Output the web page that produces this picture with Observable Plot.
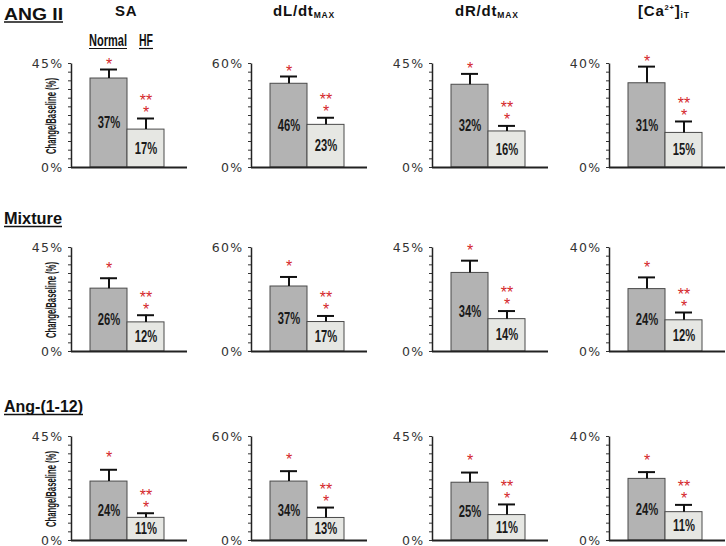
<!DOCTYPE html>
<html><head><meta charset="utf-8">
<script src="https://cdn.jsdelivr.net/npm/d3@7"></script>
<script src="https://cdn.jsdelivr.net/npm/@observablehq/plot@0.6"></script>
<style>
body{margin:0;background:#fff;}
#wrap{position:relative;width:726px;height:546px;overflow:hidden;background:#fff;}
.panel{position:absolute;}
#overlay{position:absolute;left:0;top:0;pointer-events:none;}
</style></head><body><div id="wrap"></div>
<script>
// ---------- data ----------
const columns = ["SA", "dL/dtMAX", "dR/dtMAX", "[Ca2+]iT"];
const columnTitles = [["SA"], ["dL/dt", "_MAX"], ["dR/dt", "_MAX"], ["[Ca", "^2+", "]", "_iT"]];
const rows = ["ANG II", "Mixture", "Ang-(1-12)"];
const groups = ["Normal", "HF"];
const yMax = [45, 60, 45, 40];
const yTickLabels = [["0%", "45%"], ["0%", "60%"], ["0%", "45%"], ["0%", "40%"]];
const yLabel = "Change/Baseline (%)";

const normalValues = [
  [38.5, 48.3, 35.8, 32.4],
  [27.2, 37.5, 34.0, 24.0],
  [25.5, 34.0, 25.0, 23.7]
];
const normalErr = [
  [42.4, 52.5, 40.5, 38.8],
  [31.7, 43.0, 39.3, 28.5],
  [30.6, 40.0, 29.4, 26.3]
];
const hfValues = [
  [16.4, 24.6, 15.6, 13.3],
  [12.6, 17.0, 14.0, 12.0],
  [9.8, 13.0, 11.0, 10.9]
];
const hfErr = [
  [21.2, 28.7, 18.0, 17.7],
  [15.7, 20.5, 17.5, 15.0],
  [11.8, 19.0, 15.6, 13.7]
];
const normalLabels = [
  ["37%", "46%", "32%", "31%"],
  ["26%", "37%", "34%", "24%"],
  ["24%", "34%", "25%", "24%"]
];
const hfLabels = [
  ["17%", "23%", "16%", "15%"],
  ["12%", "17%", "14%", "12%"],
  ["11%", "13%", "11%", "11%"]
];
const normalStars = "*";
const hfStars = ["**", "*"];

// ---------- layout ----------
const colAxis = [71, 251, 432, 609];
const rowTop = [63, 247, 436];
const ML = 60, MT = 30, MB = 6, IH = 104, PW = 176;
const RED = "#d4282a";
const normalStarDy = [-9, -14, -16];

const wrap = document.getElementById("wrap");

function condense(texts, factor) {
  texts.forEach(t => {
    const len = t.getComputedTextLength();
    if (len > 0) {
      t.setAttribute("textLength", (len * factor).toFixed(2));
      t.setAttribute("lengthAdjust", "spacingAndGlyphs");
    }
  });
}

for (let r = 0; r < rows.length; r++) {
  for (let c = 0; c < columns.length; c++) {
    const max = yMax[c];
    const data = groups.map((g, i) => ({
      group: g,
      value: i ? hfValues[r][c] : normalValues[r][c],
      err: i ? hfErr[r][c] : normalErr[r][c],
      label: i ? hfLabels[r][c] : normalLabels[r][c]
    }));
    const minor = d3.range(0, 13).map(k => max * k / 12);
    const w = PW - ML, h = IH;
    const corr = 4.3;
    const plot = Plot.plot({
      width: PW, height: MT + IH + MB,
      marginLeft: ML, marginRight: 0, marginTop: MT, marginBottom: MB,
      style: {background: "transparent", overflow: "visible", fontFamily: "'Liberation Sans', Arial, sans-serif"},
      x: {domain: groups, range: [ML + 19, ML + 93], padding: 0, axis: null},
      y: {domain: [0, max], axis: null},
      color: {domain: groups, range: ["#b3b3b3", "#e6e7e3"]},
      marks: [
        Plot.barY(data, {x: "group", y: "value", fill: "group", stroke: "#4a4a4a", strokeWidth: 1}),
        Plot.ruleX(data, {x: "group", y1: "value", y2: "err", stroke: "#111", strokeWidth: 2}),
        Plot.tickY(data, {x: "group", y: "err", stroke: "#111", strokeWidth: 2, insetLeft: 10, insetRight: 10}),
        Plot.text(data, {x: "group", y: d => d.value / 2, text: "label", fill: "#1a1a1a",
          fontSize: 16, fontWeight: "bold"}),
        Plot.text([data[0]], {x: "group", y: "err", text: () => normalStars, fill: RED,
          fontSize: 16, dy: normalStarDy[r] + corr}),
        Plot.text([data[1]], {x: "group", y: "err", text: () => hfStars[1], fill: RED,
          fontSize: 16, dy: -10 + corr}),
        Plot.text([data[1]], {x: "group", y: "err", text: () => hfStars[0], fill: RED,
          fontSize: 16, dy: -22 + corr}),
        Plot.axisY({ticks: minor, tickSize: 3, tickFormat: () => "", stroke: "#333", strokeWidth: 1}),
        Plot.axisY({ticks: [0, max], tickSize: 0, tickPadding: 8,
          tickFormat: (d) => yTickLabels[c][d === 0 ? 0 : 1], fill: "#333",
          fontSize: 12.5, fontFamily: "'DejaVu Sans', sans-serif"}),
        Plot.frame({stroke: "#222", strokeWidth: 1.5, strokeDasharray: `0 ${2 * w + h} ${h}`}),
        Plot.ruleY([0], {stroke: "#222", strokeWidth: 2})
      ]
    });
    const div = document.createElement("div");
    div.className = "panel";
    div.style.left = (colAxis[c] - ML) + "px";
    div.style.top = (rowTop[r] - MT) + "px";
    div.appendChild(plot);
    wrap.appendChild(div);
    const labelTexts = Array.from(plot.querySelectorAll("text"))
      .filter(t => /^\d+%$/.test(t.textContent) && t.closest('g[font-weight="bold"]'));
    condense(labelTexts, 0.7);
    plot.querySelectorAll('g[aria-label="y-axis tick label"] text').forEach(t => {
      t.style.letterSpacing = "1.3px";
      t.style.fontFamily = "'DejaVu Sans', sans-serif";
      t.style.fontSize = "12.5px";
    });
  }
}

// ---------- overlay texts ----------
const ov = d3.select(wrap).append("svg").attr("id", "overlay")
  .attr("width", 726).attr("height", 546)
  .style("font-family", "'Liberation Sans', Arial, sans-serif");

const titleX = [115, 273, 455, 638];
columnTitles.forEach((parts, c) => {
  const t = ov.append("text").attr("x", titleX[c]).attr("y", 16)
    .attr("font-weight", "bold").attr("font-size", 15).attr("fill", "#111")
    .style("letter-spacing", "0.8px");
  let shift = 0;
  parts.forEach(p => {
    let target = 0, size = 15, txt = p;
    if (p[0] === "_") { target = 2; size = 8.5; txt = p.slice(1); }
    else if (p[0] === "^") { target = -6; size = 7.5; txt = p.slice(1); }
    t.append("tspan").attr("dy", target - shift).attr("font-size", size).text(txt);
    shift = target;
  });
});

const rowX = 4, rowBase = [20, 224, 412], rowLen = [59, 58, 79], rowUnder = [22, 226.5, 414.5];
rows.forEach((name, r) => {
  ov.append("text").attr("x", rowX).attr("y", rowBase[r])
    .attr("font-weight", "bold").attr("font-size", 16).attr("fill", "#111")
    .attr("textLength", rowLen[r]).attr("lengthAdjust", "spacingAndGlyphs").text(name);
  ov.append("line").attr("x1", rowX).attr("x2", rowX + rowLen[r])
    .attr("y1", rowUnder[r]).attr("y2", rowUnder[r]).attr("stroke", "#111").attr("stroke-width", 1.3);
  ov.append("text")
    .attr("transform", `translate(51,${rowTop[r] + 53}) rotate(-90)`)
    .attr("text-anchor", "middle").attr("dy", "0.35em")
    .attr("font-weight", "bold").attr("font-size", 15).attr("fill", "#1a1a1a")
    .attr("textLength", 76).attr("lengthAdjust", "spacingAndGlyphs").text(yLabel);
});

const grpX = [89, 139], grpLen = [38, 14];
groups.forEach((g, i) => {
  ov.append("text").attr("x", grpX[i]).attr("y", 46)
    .attr("font-weight", "bold").attr("font-size", 17).attr("fill", "#111")
    .attr("textLength", grpLen[i]).attr("lengthAdjust", "spacingAndGlyphs").text(g);
  ov.append("line").attr("x1", grpX[i]).attr("x2", grpX[i] + grpLen[i])
    .attr("y1", 48.5).attr("y2", 48.5).attr("stroke", "#111").attr("stroke-width", 1.2);
});
</script></body></html>
